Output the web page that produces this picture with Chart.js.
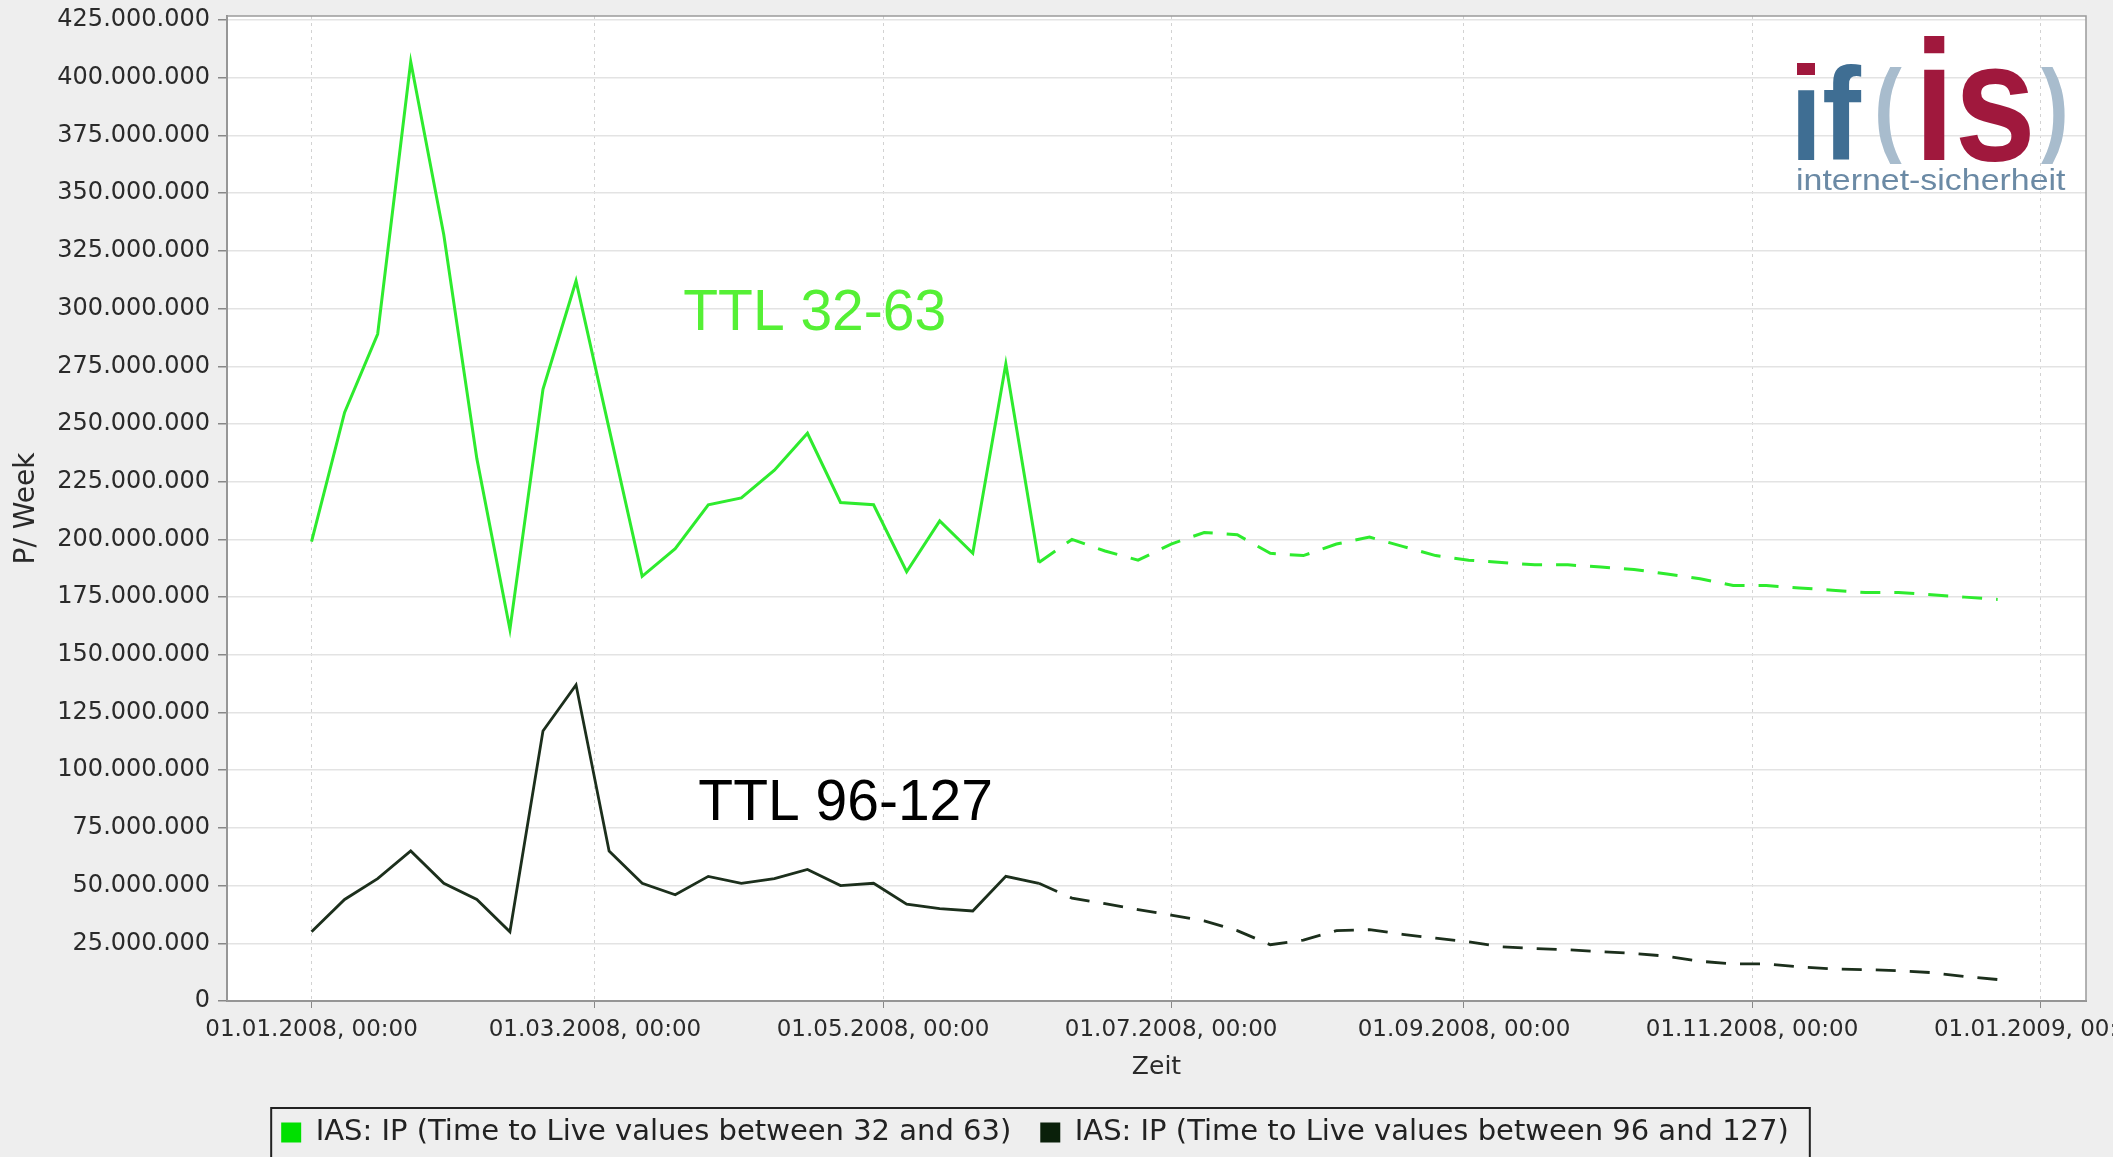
<!DOCTYPE html>
<html><head><meta charset="utf-8">
<script src="https://cdn.jsdelivr.net/npm/chart.js@4.4.1/dist/chart.umd.min.js"></script>
<style>
html,body{margin:0;padding:0;background:#eeeeee;}
#wrap{width:2113px;height:1157px;position:relative;}
</style></head><body>
<div id="wrap"><canvas id="c"></canvas></div>
<script>
// ---- data ----
const WEEKS = ['2008-01-01','2008-01-08','2008-01-15','2008-01-22','2008-01-29',
  '2008-02-05','2008-02-12','2008-02-19','2008-02-26',
  '2008-03-04','2008-03-11','2008-03-18','2008-03-25',
  '2008-04-01','2008-04-08','2008-04-15','2008-04-22','2008-04-29',
  '2008-05-06','2008-05-13','2008-05-20','2008-05-27',
  '2008-06-03','2008-06-10','2008-06-17','2008-06-24',
  '2008-07-01','2008-07-08','2008-07-15','2008-07-22','2008-07-29',
  '2008-08-05','2008-08-12','2008-08-19','2008-08-26',
  '2008-09-02','2008-09-09','2008-09-16','2008-09-23','2008-09-30',
  '2008-10-07','2008-10-14','2008-10-21','2008-10-28',
  '2008-11-04','2008-11-11','2008-11-18','2008-11-25',
  '2008-12-02','2008-12-09','2008-12-16','2008-12-23'];
// millions of packets per week
const TTL_32_63 = [199,255,289,407,332,235,161,265,312,248,184,196,215,218,230,246,216,215,186,208,194,276,190,
  200,195,191,198,203,202,194,193,198,201,197,193,191,190,189,189,188,187,185,183,180,180,179,178,177,177,176,175,174];
const TTL_96_127 = [30,44,53,65,51,44,30,117,137,65,51,46,54,51,53,57,50,51,42,40,39,54,51,
  44.6,42.2,39.6,37.2,34.7,30.5,24.4,26.4,30.5,30.9,28.9,27.2,25.6,23.5,22.7,22.2,21.4,20.6,19.4,17.2,
  16.1,16.1,14.8,13.9,13.6,13.1,12.3,10.6,9.3];
const FORECAST_FROM = 22; // index of 2008-06-03: measured before, dashed afterwards
const X_TICK_DATES = ['2008-01-01','2008-03-01','2008-05-01','2008-07-01','2008-09-01','2008-11-01','2009-01-01'];
const X_TICK_LABELS = ['01.01.2008, 00:00','01.03.2008, 00:00','01.05.2008, 00:00','01.07.2008, 00:00','01.09.2008, 00:00','01.11.2008, 00:00','01.01.2009, 00:00'];
const Y_TICKS = [0,25e6,50e6,75e6,100e6,125e6,150e6,175e6,200e6,225e6,250e6,275e6,300e6,325e6,350e6,375e6,400e6,425e6];
const LEGEND_LABELS = ['IAS: IP (Time to Live values between 32 and 63)','IAS: IP (Time to Live values between 96 and 127)'];
const NOTES = [
  {text:'TTL 32-63', day:78.7, value:290.8e6, color:'#55f035'},
  {text:'TTL 96-127', day:81.9, value:78.5e6, color:'#000000'}
];
const X_MIN = -17.9, X_MAX = 375.7, Y_MAX = 426.8e6;

// ---- helpers ----
const day = s => (Date.UTC(+s.slice(0,4), +s.slice(5,7)-1, +s.slice(8,10)) - Date.UTC(2008,0,1)) / 86400000;
const fmt = v => String(Math.round(v)).replace(/\B(?=(\d{3})+(?!\d))/g, '.');
const pts = (arr, a, b) => arr.slice(a, b).map((v, i) => ({x: day(WEEKS[a + i]), y: v * 1e6}));

const GREEN = '#2eeb2e', DARK = '#1c2f1c';
const LEGEND_COLORS = ['#00e000', '#0a200a'];

Chart.defaults.font.family = "'DejaVu Sans', sans-serif";

function drawLogo(ctx, a) {
  const R = a.right;
  const put = (t, x, y, font, color, sx) => {
    ctx.save(); ctx.translate(R + x, y); ctx.scale(sx, 1);
    ctx.font = font; ctx.fillStyle = color; ctx.textBaseline = 'alphabetic';
    ctx.fillText(t, 0, 0); ctx.restore();
  };
  put('\u0131f', -296, 160, 'bold 132px "Liberation Sans"', '#3f6e93', 0.88);
  ctx.save(); ctx.fillStyle = '#a0183d'; ctx.fillRect(R - 289, 63, 18, 12); ctx.restore();
  put('(', -212, 142, 'bold 104px "Liberation Sans"', '#a8bccd', 0.8);
  put('is', -172, 160, 'bold 170px "Liberation Sans"', '#a0183d', 0.86);
  put(')', -45, 142, 'bold 104px "Liberation Sans"', '#a8bccd', 0.8);
  put('internet-sicherheit', -290, 190, '30px "Liberation Sans"', '#6b8aa5', 1.13);
}

const decor = {
  id: 'decor',
  beforeDraw(chart) {
    const {ctx, chartArea: a} = chart;
    ctx.save(); ctx.fillStyle = '#ffffff';
    ctx.fillRect(a.left, a.top, a.right - a.left, a.bottom - a.top); ctx.restore();
  },
  beforeDatasetsDraw(chart) { drawLogo(chart.ctx, chart.chartArea); },
  afterDraw(chart) {
    const {ctx, chartArea: a, scales} = chart;
    ctx.save();
    ctx.strokeStyle = '#9a9a9a'; ctx.lineWidth = 1.5;
    ctx.strokeRect(a.left, a.top, a.right - a.left, a.bottom - a.top);
    ctx.font = '57px "Liberation Sans"'; ctx.textBaseline = 'alphabetic';
    NOTES.forEach(n => {
      ctx.fillStyle = n.color;
      ctx.fillText(n.text, scales.x.getPixelForValue(n.day), scales.y.getPixelForValue(n.value));
    });
    const hb = chart.legend.legendHitBoxes;
    if (hb && hb.length) {
      const l = hb[0].left - 10, r = hb[hb.length - 1].left + hb[hb.length - 1].width + 21;
      const t = hb[0].top - 10;
      ctx.strokeStyle = '#222'; ctx.lineWidth = 2;
      ctx.strokeRect(l, t, r - l, chart.height + 20 - t);
    }
    ctx.restore();
  }
};

new Chart(document.getElementById('c'), {
  type: 'line',
  data: {
    datasets: [
      {label: LEGEND_LABELS[0], data: pts(TTL_32_63, 0, FORECAST_FROM + 1), borderColor: GREEN, borderWidth: 3, pointRadius: 0, tension: 0, fill: false},
      {label: LEGEND_LABELS[0] + ' forecast', data: pts(TTL_32_63, FORECAST_FROM, TTL_32_63.length), borderColor: GREEN, borderWidth: 3, borderDash: [20, 14], pointRadius: 0, tension: 0, fill: false},
      {label: LEGEND_LABELS[1], data: pts(TTL_96_127, 0, FORECAST_FROM + 1), borderColor: DARK, borderWidth: 2.8, pointRadius: 0, tension: 0, fill: false},
      {label: LEGEND_LABELS[1] + ' forecast', data: pts(TTL_96_127, FORECAST_FROM, TTL_96_127.length), borderColor: DARK, borderWidth: 2.8, borderDash: [20, 14], pointRadius: 0, tension: 0, fill: false}
    ]
  },
  options: {
    responsive: true, maintainAspectRatio: false, animation: false, devicePixelRatio: 1,
    layout: {padding: {left: -16, right: 27, top: 16, bottom: 0}},
    plugins: {
      tooltip: {enabled: false},
      legend: {
        position: 'bottom',
        labels: {
          font: {size: 29}, color: '#222', boxWidth: 20, boxHeight: 20, padding: 29,
          generateLabels: () => LEGEND_LABELS.map((text, i) => ({
            text, fillStyle: LEGEND_COLORS[i], strokeStyle: LEGEND_COLORS[i], lineWidth: 0,
            hidden: false, datasetIndex: i * 2, fontColor: '#222'
          }))
        }
      }
    },
    scales: {
      x: {
        type: 'linear', min: X_MIN, max: X_MAX, position: 'bottom',
        afterBuildTicks: s => { s.ticks = X_TICK_DATES.map(d => ({value: day(d)})); },
        afterFit: s => { s.height = 88; s.paddingLeft = 0; s.paddingRight = 0; },
        ticks: {callback: (v, i) => X_TICK_LABELS[i], autoSkip: false, maxRotation: 0, minRotation: 0, font: {size: 23}, color: '#2a2a2a', padding: 8},
        grid: {color: '#d2d2d2', lineWidth: 1, tickLength: 7, tickColor: '#888'},
        border: {display: true, color: '#888', width: 2, dash: [3, 4]},
        title: {display: true, text: 'Zeit', font: {size: 25}, color: '#2a2a2a', padding: {top: 0, bottom: 7}}
      },
      y: {
        min: 0, max: Y_MAX,
        afterBuildTicks: s => { s.ticks = Y_TICKS.map(v => ({value: v})); },
        afterFit: s => { s.width = 243; s.paddingTop = 0; s.paddingBottom = 0; },
        ticks: {autoSkip: false, callback: v => fmt(v), font: {size: 24}, color: '#2a2a2a', padding: 8},
        grid: {color: '#e3e3e3', lineWidth: 1.5, tickLength: 9, tickColor: '#888'},
        border: {color: '#888', width: 2},
        title: {display: true, text: 'P/ Week', font: {size: 28}, color: '#2a2a2a', padding: {top: 26, bottom: 4}}
      }
    }
  },
  plugins: [decor]
});
</script>
</body></html>
